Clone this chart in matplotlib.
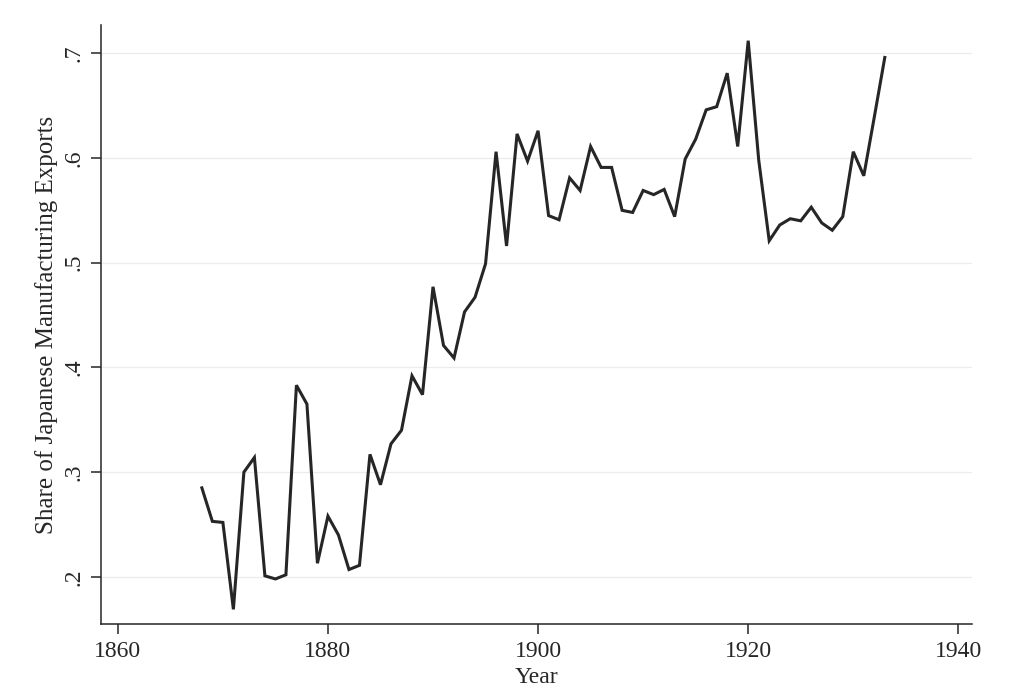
import matplotlib
matplotlib.use("Agg")
import matplotlib.pyplot as plt

years = list(range(1868, 1934))
share = [0.285, 0.253, 0.252, 0.169, 0.300, 0.314, 0.201, 0.198, 0.202, 0.383,
         0.365, 0.213, 0.258, 0.240, 0.207, 0.211, 0.317, 0.288, 0.327, 0.340,
         0.392, 0.374, 0.477, 0.421, 0.409, 0.453, 0.467, 0.499, 0.606, 0.516,
         0.623, 0.597, 0.626, 0.545, 0.541, 0.581, 0.569, 0.611, 0.591, 0.591,
         0.550, 0.548, 0.569, 0.565, 0.570, 0.544, 0.599, 0.618, 0.646, 0.649,
         0.681, 0.611, 0.712, 0.598, 0.521, 0.536, 0.542, 0.540, 0.553, 0.538,
         0.531, 0.544, 0.606, 0.583, 0.639, 0.696]

xticks = [1860, 1880, 1900, 1920, 1940]
yticks = [0.2, 0.3, 0.4, 0.5, 0.6, 0.7]
ytick_labels = [".2", ".3", ".4", ".5", ".6", ".7"]

plt.rcParams['font.family'] = ['Liberation Serif', 'DejaVu Serif']

fig = plt.figure(figsize=(10.24, 6.94), dpi=100)
ax = fig.add_axes([101/1024, 1 - 624/694, (972 - 101)/1024, (624 - 25)/694])

ax.plot(years, share, color="#262626", lw=2.2, solid_joinstyle="miter")

ax.set_xlim(1858.4, 1941.3)
ax.set_ylim(0.155, 0.727)
ax.set_xticks(xticks)
ax.set_xticklabels([str(t) for t in xticks])
ax.set_yticks(yticks)
ax.set_yticklabels(ytick_labels, rotation=90, va="center")

ax.grid(axis="y", color="#ececec", lw=0.9)
ax.set_axisbelow(True)
for s in ["top", "right"]:
    ax.spines[s].set_visible(False)
for s in ["left", "bottom"]:
    ax.spines[s].set_color("#262626")
    ax.spines[s].set_linewidth(1.1)

ax.tick_params(axis="both", direction="out", length=7, width=1.1, color="#262626",
               labelsize=17, labelcolor="#262626", pad=5)
ax.set_xlabel("Year", fontsize=17, color="#262626", labelpad=4)
ax.set_ylabel("Share of Japanese Manufacturing Exports", fontsize=18, color="#262626", labelpad=4)

fig.savefig("out.png", dpi=100)
